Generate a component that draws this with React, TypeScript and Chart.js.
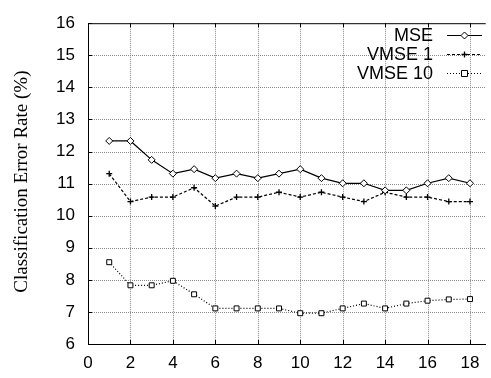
import React, { useEffect, useRef } from 'react';
import { Chart, registerables } from 'chart.js';
Chart.register(...registerables);

const xValues = [1, 2, 3, 4, 5, 6, 7, 8, 9, 10, 11, 12, 13, 14, 15, 16, 17, 18];
const mseValues = [12.33, 12.33, 11.74, 11.31, 11.45, 11.17, 11.31, 11.17, 11.31, 11.45, 11.17, 11.01, 11.01, 10.79, 10.79, 11.01, 11.17, 11.01];
const vmse1Values = [11.31, 10.44, 10.58, 10.58, 10.87, 10.30, 10.58, 10.58, 10.73, 10.58, 10.73, 10.58, 10.44, 10.73, 10.58, 10.58, 10.44, 10.44];
const vmse10Values = [8.55, 7.83, 7.83, 7.97, 7.55, 7.11, 7.11, 7.11, 7.11, 6.96, 6.96, 7.11, 7.26, 7.11, 7.26, 7.35, 7.39, 7.40];
const xTickValues = [0, 2, 4, 6, 8, 10, 12, 14, 16, 18];
const yTickValues = [6, 7, 8, 9, 10, 11, 12, 13, 14, 15, 16];
const seriesNames = ['MSE', 'VMSE 1', 'VMSE 10'];
const yTitle = 'Classification Error Rate (%)';

const SANS = '"Liberation Sans", Arial, sans-serif';
const SERIF = '"Liberation Serif", "Times New Roman", serif';

const dashes = [[], [3, 2], [1, 2]];
const markers = ['diamond', 'cross', 'square'];

function drawMarker(ctx: CanvasRenderingContext2D, kind: string, x: number, y: number) {
  ctx.save();
  ctx.setLineDash([]);
  ctx.strokeStyle = '#000';
  ctx.fillStyle = '#fff';
  ctx.lineWidth = 1;
  ctx.beginPath();
  if (kind === 'diamond') {
    const r = 3.5;
    ctx.moveTo(x, y - r);
    ctx.lineTo(x + r, y);
    ctx.lineTo(x, y + r);
    ctx.lineTo(x - r, y);
    ctx.closePath();
    ctx.fill();
    ctx.stroke();
  } else if (kind === 'cross') {
    const r = 3;
    ctx.lineWidth = 1.3;
    ctx.moveTo(x - r, y);
    ctx.lineTo(x + r, y);
    ctx.moveTo(x, y - r);
    ctx.lineTo(x, y + r);
    ctx.stroke();
  } else {
    const r = 3;
    ctx.rect(x - r, y - r, 2 * r, 2 * r);
    ctx.fill();
    ctx.stroke();
  }
  ctx.restore();
}

const gridPlugin = {
  id: 'dottedGrid',
  beforeDatasetsDraw(chart: any) {
    const ctx: CanvasRenderingContext2D = chart.ctx;
    const a = chart.chartArea;
    const xs = chart.scales.x;
    const ys = chart.scales.y;
    ctx.save();
    ctx.strokeStyle = '#8a8a8a';
    ctx.lineWidth = 1;
    ctx.setLineDash([1, 1]);
    ctx.beginPath();
    xTickValues.forEach((v) => {
      if (v === 0) return;
      const px = Math.round(xs.getPixelForValue(v)) + 0.5;
      ctx.moveTo(px, a.top);
      ctx.lineTo(px, a.bottom);
    });
    yTickValues.forEach((v) => {
      if (v === 6 || v === 16) return;
      const py = Math.round(ys.getPixelForValue(v)) + 0.5;
      ctx.moveTo(a.left, py);
      ctx.lineTo(a.right, py);
    });
    ctx.stroke();
    ctx.restore();
  },
};

const framePlugin = {
  id: 'frameAndLegend',
  afterDraw(chart: any) {
    const ctx: CanvasRenderingContext2D = chart.ctx;
    const a = chart.chartArea;
    const xs = chart.scales.x;
    const ys = chart.scales.y;
    ctx.save();
    ctx.strokeStyle = '#000';
    ctx.lineWidth = 1;
    ctx.setLineDash([]);
    ctx.beginPath();
    ctx.moveTo(a.left, a.top + 0.5);
    ctx.lineTo(a.right, a.top + 0.5);
    ctx.stroke();
    ctx.beginPath();
    xTickValues.forEach((v) => {
      const px = Math.round(xs.getPixelForValue(v)) + 0.5;
      ctx.moveTo(px, a.bottom);
      ctx.lineTo(px, a.bottom - 4);
      ctx.moveTo(px, a.top);
      ctx.lineTo(px, a.top + 4);
    });
    yTickValues.forEach((v) => {
      const py = Math.round(ys.getPixelForValue(v)) + 0.5;
      ctx.moveTo(a.left, py);
      ctx.lineTo(a.left + 4, py);
    });
    ctx.stroke();
    ctx.save();
    ctx.translate(22, (a.top + a.bottom) / 2 - 2);
    ctx.rotate(-Math.PI / 2);
    ctx.font = '19px ' + SERIF;
    ctx.fillStyle = '#000';
    ctx.textAlign = 'center';
    ctx.textBaseline = 'middle';
    ctx.fillText(yTitle, 0, 0);
    ctx.restore();
    const rowY = [35, 54, 73];
    ctx.font = '18px ' + SANS;
    ctx.fillStyle = '#000';
    ctx.textAlign = 'right';
    ctx.textBaseline = 'middle';
    seriesNames.forEach((name, i) => {
      const y = rowY[i];
      ctx.fillText(name, 433, y + 1);
      ctx.save();
      ctx.setLineDash(dashes[i]);
      ctx.lineWidth = 1.2;
      ctx.strokeStyle = '#000';
      ctx.beginPath();
      ctx.moveTo(447, y + 0.5);
      ctx.lineTo(482, y + 0.5);
      ctx.stroke();
      ctx.restore();
      drawMarker(ctx, markers[i], 464.5, y + 0.5);
    });
    ctx.restore();
  },
};

function toPoints(vals: number[]) {
  return vals.map((v, i) => ({ x: xValues[i], y: v }));
}

export default function App() {
  const ref = useRef<HTMLCanvasElement>(null);
  useEffect(() => {
    if (!ref.current) return;
    const chart = new Chart(ref.current, {
      type: 'line',
      data: {
        datasets: [
          {
            label: seriesNames[0],
            data: toPoints(mseValues),
            borderColor: '#000',
            borderWidth: 1.2,
            pointStyle: 'rectRot',
            pointRadius: 3.5,
            pointBackgroundColor: '#fff',
            pointBorderColor: '#000',
            pointBorderWidth: 1,
            fill: false,
            tension: 0,
          },
          {
            label: seriesNames[1],
            data: toPoints(vmse1Values),
            borderColor: '#000',
            borderWidth: 1.2,
            borderDash: [3, 2],
            pointStyle: 'cross',
            pointRadius: 3,
            pointBorderColor: '#000',
            pointBorderWidth: 1.3,
            fill: false,
            tension: 0,
          },
          {
            label: seriesNames[2],
            data: toPoints(vmse10Values),
            borderColor: '#000',
            borderWidth: 1.2,
            borderDash: [1, 2],
            pointStyle: 'rect',
            pointRadius: 3.5,
            pointBackgroundColor: '#fff',
            pointBorderColor: '#000',
            pointBorderWidth: 1,
            fill: false,
            tension: 0,
          },
        ],
      },
      options: {
        responsive: false,
        animation: false,
        layout: { padding: { left: 0, top: 12, right: 0, bottom: 0 } },
        plugins: { legend: { display: false }, tooltip: { enabled: false } },
        scales: {
          x: {
            type: 'linear',
            min: 0,
            max: 18.74,
            afterBuildTicks: (s: any) => {
              s.ticks = xTickValues.map((v) => ({ value: v }));
            },
            afterFit: (s: any) => {
              s.height = 34;
            },
            ticks: {
              font: { family: SANS, size: 17 },
              color: '#000',
              padding: 9,
              maxRotation: 0,
              autoSkip: false,
            },
            grid: { display: false, drawTicks: false },
            border: { display: true, color: '#000', width: 1 },
          },
          y: {
            type: 'linear',
            min: 6,
            max: 16,
            afterBuildTicks: (s: any) => {
              s.ticks = yTickValues.map((v) => ({ value: v }));
            },
            afterFit: (s: any) => {
              s.width = 88;
            },
            ticks: {
              font: { family: SANS, size: 17 },
              color: '#000',
              padding: 13,
              autoSkip: false,
            },
            grid: { display: false, drawTicks: false },
            border: { display: true, color: '#000', width: 1 },
          },
        },
      },
      plugins: [gridPlugin, framePlugin],
    });
    return () => chart.destroy();
  }, []);
  return (
    <div style={{ position: 'absolute', left: 0, top: 0, width: 491, height: 378, background: '#fff' }}>
      <canvas ref={ref} width={491} height={378} />
    </div>
  );
}
